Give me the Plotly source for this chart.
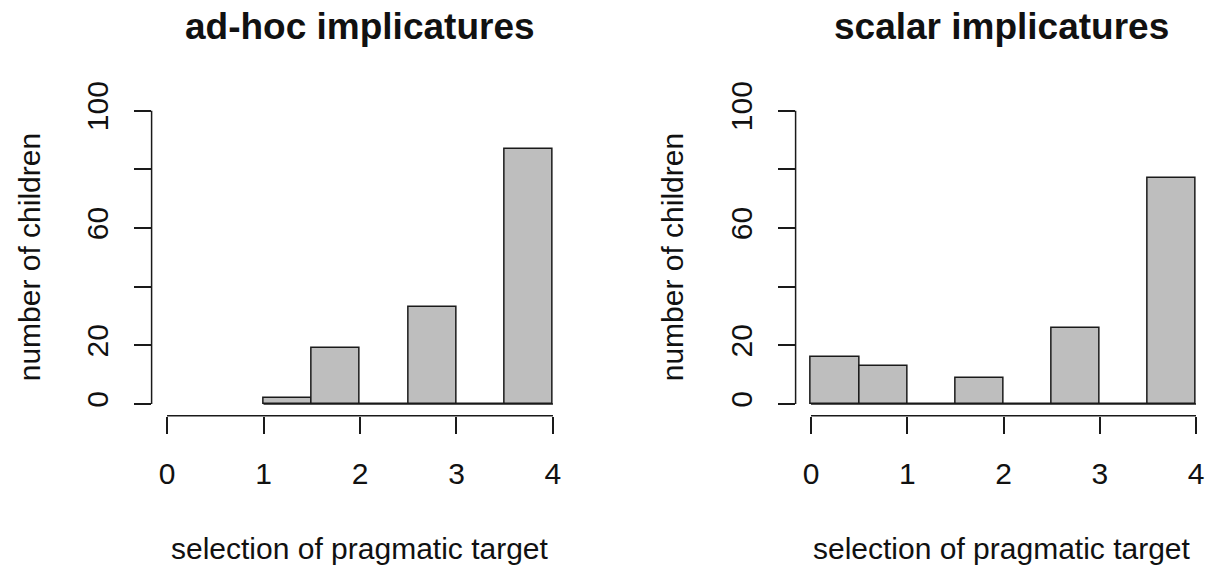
import plotly.graph_objects as go

# ---- data ----
adhoc_breaks = [1.0, 1.5, 2.0, 2.5, 3.0, 3.5, 4.0]
adhoc_counts = [2, 19, 0, 33, 0, 87]
scalar_breaks = [0.0, 0.5, 1.0, 1.5, 2.0, 2.5, 3.0, 3.5, 4.0]
scalar_counts = [16, 13, 0, 9, 0, 26, 0, 77]
panel_titles = ["ad-hoc implicatures", "scalar implicatures"]
x_title = "selection of pragmatic target"
y_title = "number of children"
x_ticks = [0, 1, 2, 3, 4]
y_ticks = [0, 20, 40, 60, 80, 100]
y_ticktext = ["0", "20", "", "60", "", "100"]

W, H = 1208, 565
FONT = "Liberation Sans, Arial, sans-serif"
FS = 30
BAR_FILL = "#BEBEBE"
LINE = "#1a1a1a"

fig = go.Figure()

panels = [
    dict(breaks=adhoc_breaks, counts=adhoc_counts, xa="x", ya="y",
         dom=[151.6 / W, 568.4 / W], rng=[-0.16, 4.16]),
    dict(breaks=scalar_breaks, counts=scalar_counts, xa="x2", ya="y2",
         dom=[795.6 / W, 1.0], rng=[-0.16, (W - 811) / 96.25]),
]

for i, p in enumerate(panels):
    b = p["breaks"]
    centers = [(b[k] + b[k + 1]) / 2 for k in range(len(b) - 1)]
    widths = [b[k + 1] - b[k] for k in range(len(b) - 1)]
    # baseline through all bins (R draws zero-height bins as a line)
    fig.add_trace(go.Scatter(x=[b[0], b[-1]], y=[0, 0], mode="lines",
                             line=dict(color=LINE, width=1.5),
                             xaxis=p["xa"], yaxis=p["ya"], showlegend=False,
                             hoverinfo="skip", cliponaxis=False))
    fig.add_trace(go.Bar(x=centers, y=p["counts"], width=widths,
                         marker=dict(color=BAR_FILL, line=dict(color=LINE, width=1.5)),
                         xaxis=p["xa"], yaxis=p["ya"], showlegend=False,
                         cliponaxis=False))
    sfx = "" if i == 0 else str(i + 1)
    fig.update_layout(**{
        "xaxis" + sfx: dict(domain=p["dom"], range=p["rng"], anchor=p["ya"],
                            tickvals=x_ticks, ticks="outside", ticklen=17,
                            tickwidth=1.5, tickcolor=LINE, showline=False,
                            showgrid=False, zeroline=False, automargin=False,
                            ticklabelstandoff=14,
                            tickfont=dict(family=FONT, size=FS, color="#111111")),
        "yaxis" + sfx: dict(domain=[1 - 415.7 / H, 1 - 98.9 / H], range=[-4, 104],
                            anchor=p["xa"], tickvals=y_ticks, ticktext=y_ticktext,
                            ticks="outside", ticklen=17, tickwidth=1.5,
                            tickcolor=LINE, showline=False, showgrid=False,
                            zeroline=False, tickangle=-90, automargin=False,
                            ticklabelstandoff=14,
                            tickfont=dict(family=FONT, size=FS, color="#111111")),
    })
    # axis lines spanning first to last tick, as R does
    fig.add_shape(type="line", xref=p["xa"], yref=p["ya"] + " domain",
                  x0=x_ticks[0], x1=x_ticks[-1], y0=0, y1=0,
                  line=dict(color=LINE, width=1.5))
    fig.add_shape(type="line", xref=p["xa"] + " domain", yref=p["ya"],
                  x0=0, x1=0, y0=y_ticks[0], y1=y_ticks[-1],
                  line=dict(color=LINE, width=1.5))
    # titles
    fig.add_annotation(text="<b>" + panel_titles[i] + "</b>", xref=p["xa"] + " domain",
                       yref="paper", x=0.5, y=1 - 27 / H, showarrow=False,
                       font=dict(family=FONT, size=37, color="#111111"),
                       xanchor="center", yanchor="middle")
    fig.add_annotation(text=x_title, xref=p["xa"] + " domain", yref="paper",
                       x=0.5, y=1 - 548 / H, showarrow=False,
                       font=dict(family=FONT, size=FS, color="#111111"),
                       xanchor="center", yanchor="middle")
    fig.add_annotation(text=y_title, xref="paper", yref=p["ya"] + " domain",
                       x=(29 if i == 0 else 672) / W, y=0.5, showarrow=False,
                       textangle=-90,
                       font=dict(family=FONT, size=FS, color="#111111"),
                       xanchor="center", yanchor="middle")

fig.update_layout(width=W, height=H, margin=dict(l=0, r=0, t=0, b=0, autoexpand=False),
                  paper_bgcolor="white", plot_bgcolor="white", bargap=0)

fig.write_html("out.html", config={"displayModeBar": False},
               post_script="document.body.style.margin='0';document.body.style.overflow='hidden';")
